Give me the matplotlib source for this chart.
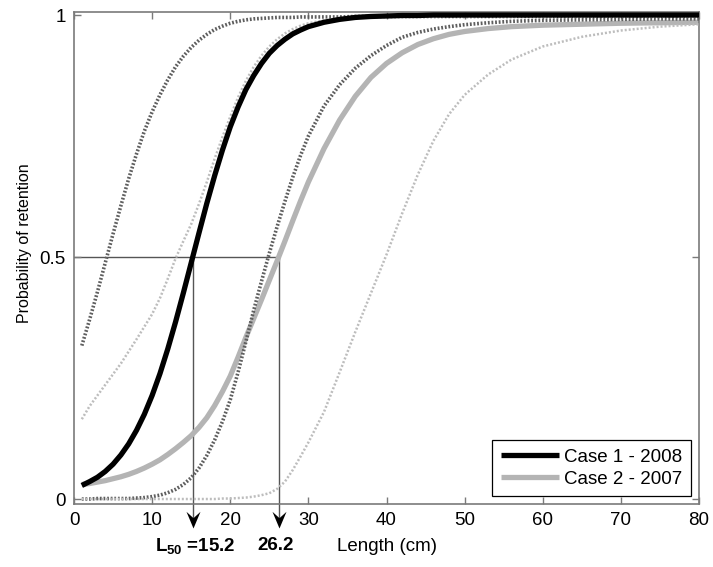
import matplotlib
matplotlib.use("Agg")
import matplotlib.pyplot as plt
from matplotlib.path import Path

plt.rcParams['font.family'] = ['Liberation Sans', 'DejaVu Sans']
plt.rcParams['mathtext.fontset'] = 'custom'
plt.rcParams['mathtext.bf'] = 'Liberation Sans:bold'
plt.rcParams['mathtext.rm'] = 'Liberation Sans'

# length classes (cm) at which the retention curves were evaluated
length_cm = [1, 2, 3, 4, 5, 6, 7, 8, 9, 10, 11, 12, 13, 14, 15, 16, 17, 18, 19, 20,
             21, 22, 23, 24, 25, 26, 27, 28, 29, 30, 32, 34, 36, 38, 40, 42, 44, 46,
             48, 50, 53, 56, 60, 65, 70, 75, 80]

# fitted selectivity curves
case1_2008 = [0.028, 0.036, 0.045, 0.057, 0.072, 0.091, 0.114, 0.142, 0.175, 0.214,
              0.259, 0.310, 0.366, 0.426, 0.488, 0.550, 0.611, 0.668, 0.721, 0.769,
              0.810, 0.846, 0.875, 0.900, 0.921, 0.937, 0.950, 0.961, 0.969, 0.976,
              0.985, 0.991, 0.995, 0.997, 0.998, 0.999, 0.999, 1.0, 1.0, 1.0,
              1.0, 1.0, 1.0, 1.0, 1.0, 1.0, 1.0]
case2_2007 = [0.030, 0.032, 0.035, 0.038, 0.042, 0.046, 0.051, 0.057, 0.064, 0.072,
              0.081, 0.092, 0.104, 0.117, 0.131, 0.148, 0.168, 0.193, 0.222, 0.254,
              0.293, 0.334, 0.373, 0.412, 0.452, 0.492, 0.533, 0.575, 0.616, 0.655,
              0.724, 0.783, 0.832, 0.871, 0.900, 0.922, 0.939, 0.951, 0.960, 0.966,
              0.972, 0.976, 0.979, 0.981, 0.983, 0.984, 0.985]

# confidence bounds (dotted)
case1_bound_dark = [0.317, 0.371, 0.428, 0.488, 0.548, 0.606, 0.662, 0.713, 0.760, 0.800,
                    0.835, 0.866, 0.893, 0.915, 0.933, 0.948, 0.960, 0.970, 0.977, 0.983,
                    0.987, 0.990, 0.992, 0.993, 0.994, 0.995, 0.995, 0.995, 0.996, 0.996,
                    0.996, 0.996, 0.997, 0.997, 0.997, 0.997, 0.997, 0.997, 0.997, 0.997,
                    0.997, 0.997, 0.997, 0.997, 0.997, 0.997, 0.997]
case1_bound_light = [0.165, 0.192, 0.214, 0.236, 0.258, 0.280, 0.305, 0.330, 0.356, 0.382,
                     0.415, 0.455, 0.497, 0.533, 0.568, 0.610, 0.655, 0.703, 0.748, 0.790,
                     0.830, 0.864, 0.893, 0.916, 0.935, 0.950, 0.962, 0.971, 0.978, 0.983,
                     0.989, 0.993, 0.995, 0.996, 0.997, 0.997, 0.997, 0.997, 0.997, 0.997,
                     0.997, 0.997, 0.997, 0.997, 0.997, 0.997, 0.997]
case2_bound_dark = [0.000, 0.000, 0.001, 0.001, 0.001, 0.001, 0.001, 0.002, 0.003, 0.005,
                    0.008, 0.013, 0.020, 0.030, 0.044, 0.064, 0.090, 0.122, 0.160, 0.205,
                    0.262, 0.325, 0.390, 0.450, 0.508, 0.563, 0.615, 0.665, 0.710, 0.750,
                    0.812, 0.856, 0.890, 0.916, 0.937, 0.954, 0.964, 0.971, 0.976, 0.980,
                    0.984, 0.987, 0.989, 0.990, 0.991, 0.992, 0.992]
case2_bound_light = [0.0, 0.0, 0.0, 0.0, 0.0, 0.0, 0.0, 0.0, 0.0, 0.0,
                     0.0, 0.0, 0.0, 0.0, 0.0, 0.0, 0.0, 0.0, 0.001, 0.001,
                     0.002, 0.003, 0.005, 0.008, 0.012, 0.021, 0.036, 0.060, 0.088, 0.117,
                     0.180, 0.262, 0.345, 0.425, 0.505, 0.590, 0.670, 0.740, 0.795, 0.835,
                     0.877, 0.908, 0.935, 0.955, 0.968, 0.976, 0.981]

l50_values = [15.2, 26.2]
l50_labels = [r'$\mathbf{L_{50}}$ =15.2', '26.2']

fig = plt.figure(figsize=(7.13, 5.67), dpi=100)
ax = fig.add_axes([0.1038, 0.1111, 0.8766, 0.8677])

axis_grey = '#7a7a7a'

# L50 guide lines with arrows below the axis
ax.plot([0, l50_values[1]], [0.5, 0.5], color='#555555', lw=1.0, zorder=1)
arrow_head = Path([(0, 0), (-0.42, 1), (0, 0.62), (0.42, 1), (0, 0)],
                  [Path.MOVETO, Path.LINETO, Path.LINETO, Path.LINETO, Path.CLOSEPOLY])
tip_y = -0.060
for xv in l50_values:
    ax.plot([xv, xv], [0.5, tip_y + 0.015], color='#555555', lw=1.0, zorder=1, clip_on=False)
    ax.plot([xv], [tip_y], marker=arrow_head, markersize=24, color='black',
            markeredgewidth=0, clip_on=False, zorder=5)
ax.text(15.5, -0.097, l50_labels[0], ha='center', va='center', fontsize=13.5,
        fontweight='bold')
ax.text(25.8, -0.097, l50_labels[1], ha='center', va='center', fontsize=13.5,
        fontweight='bold')

ax.plot(length_cm, case2_2007, color='#b4b4b4', lw=3.8, solid_capstyle='butt',
        label='Case 2 - 2007', zorder=2)
ax.plot(length_cm, case1_bound_dark, color='#5e5e5e', lw=2.6, ls=(0, (0.5, 0.5)), zorder=3)
ax.plot(length_cm, case2_bound_dark, color='#5e5e5e', lw=2.6, ls=(0, (0.5, 0.5)), zorder=3)
ax.plot(length_cm, case1_bound_light, color='#bdbdbd', lw=1.8, ls=(0, (0.8, 0.8)), zorder=3)
ax.plot(length_cm, case2_bound_light, color='#bdbdbd', lw=1.8, ls=(0, (0.8, 0.8)), zorder=3)
ax.plot(length_cm, case1_2008, color='black', lw=3.8, solid_capstyle='butt',
        label='Case 1 - 2008', zorder=4)

ax.set_xlim(0, 80)
ax.set_ylim(-0.0103, 1.0062)
ax.set_xticks(range(0, 81, 10))
ax.set_yticks([0, 0.5, 1])
ax.set_yticklabels(['0', '0.5', '1'])
ax.tick_params(direction='in', top=True, right=True, length=5, width=1,
               color=axis_grey, labelsize=13.5, pad=6)
for sp in ax.spines.values():
    sp.set_color(axis_grey)
    sp.set_linewidth(1.2)

ax.set_xlabel('Length (cm)', fontsize=13.5, labelpad=6)
ax.set_ylabel('Probability of retention', fontsize=11.5)
ax.yaxis.set_label_coords(-0.067, 0.53)

handles, labels = ax.get_legend_handles_labels()
leg = ax.legend(handles[::-1], labels[::-1], loc='lower right', fontsize=13.5,
                frameon=True, fancybox=False, edgecolor='black', framealpha=1,
                handlelength=3.1, handletextpad=0.3, borderaxespad=0.42,
                borderpad=0.45, labelspacing=0.25)
leg.get_frame().set_linewidth(0.9)

fig.savefig('out.png', dpi=100)
